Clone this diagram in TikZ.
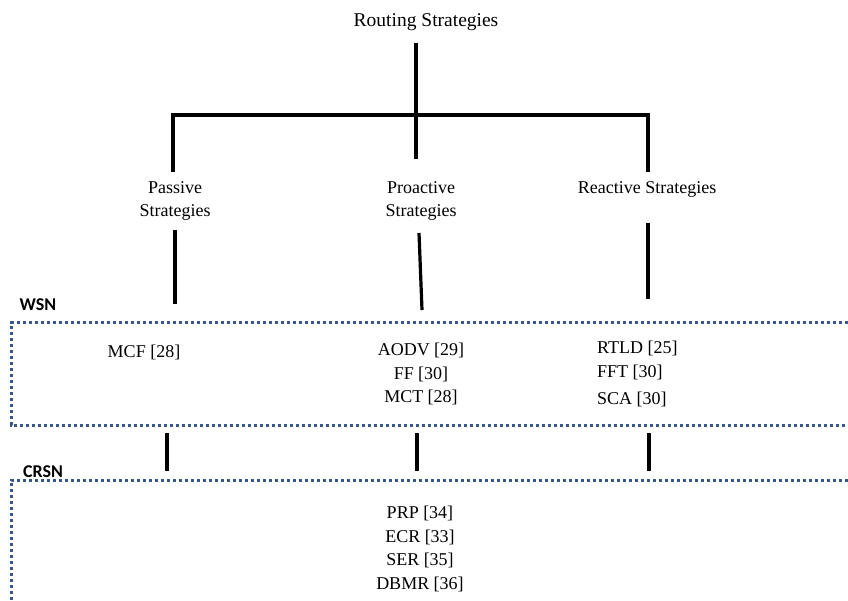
\documentclass[tikz,border=0pt]{standalone}
\usepackage{fontspec}
\setmainfont{Liberation Serif}
\newfontfamily\netfont{Carlito}
\usetikzlibrary{positioning}
\definecolor{netblue}{RGB}{56,88,140}

\begin{document}
\begin{tikzpicture}[x=1pt,y=-1pt]
% Define styles for nodes and edges
\tikzstyle{title} = [font=\fontsize{19.5}{24}\selectfont, inner sep=0pt]
\tikzstyle{strategy} = [font=\fontsize{18}{23}\selectfont, align=center, inner sep=0pt]
\tikzstyle{entry} = [font=\fontsize{18}{23.5}\selectfont, align=center, inner sep=0pt]
\tikzstyle{netlabel} = [font=\netfont\bfseries\fontsize{18}{18}\selectfont, inner sep=0pt]
\tikzstyle{branch} = [line width=4pt]
\tikzstyle{link} = [line width=3.2pt]
\tikzstyle{region} = [netblue, line width=3pt, dash pattern=on 3.2pt off 2.8pt]

\useasboundingbox (0,0) rectangle (848,601);

% Nodes
\node[title] (root) at (426,22) {Routing Strategies};
\node[strategy] (passive) at (175,201) {Passive\\Strategies};
\node[strategy] (proactive) at (421,201) {Proactive\\Strategies};
\node[strategy] (reactive) at (647,189) {Reactive Strategies};

\node[netlabel] (wsn) at (38,305) {WSN};
\node[netlabel] (crsn) at (43,472) {CRSN};

\node[entry] (mcf) at (144,352) {MCF [28]};
\node[entry] (wsnpro) at (421,374) {AODV [29]\\FF [30]\\MCT [28]};
\node[entry, align=left, anchor=west] (wsnre) at (597,374) {RTLD [25]\\FFT [30]\\[4pt]SCA [30]};
\node[entry] (crsnpro) at (420,549) {PRP [34]\\ECR [33]\\SER [35]\\DBMR [36]};

% Coordinates for the connector ends
\coordinate (top) at (416,43);
\coordinate (split) at (416,159);
\coordinate (lcorner) at (173,115);
\coordinate (rcorner) at (648,115);
\coordinate (ldrop) at (173,172);
\coordinate (rdrop) at (648,172);

\coordinate (pa1) at (175,230);
\coordinate (pa2) at (175,304);
\coordinate (pr1) at (419,233);
\coordinate (pr2) at (422,310);
\coordinate (re1) at (648,223);
\coordinate (re2) at (648,299);

\coordinate (pl1) at (167,433);
\coordinate (pl2) at (167,471);
\coordinate (ml1) at (417,433);
\coordinate (ml2) at (417,471);
\coordinate (rl1) at (649,433);
\coordinate (rl2) at (649,471);

% Edges
\draw[branch] (top) -- (split);
\draw[branch] (ldrop) -- (lcorner) -- (rcorner) -- (rdrop);

\draw[link] (pa1) -- (pa2);
\draw[link] (pr1) -- (pr2);
\draw[link] (re1) -- (re2);

\draw[link] (pl1) -- (pl2);
\draw[link] (ml1) -- (ml2);
\draw[link] (rl1) -- (rl2);

% Network regions
\draw[region] (848,323) -- (11,323) -- (11,425) -- (848,425);
\draw[region] (848,480) -- (11,480) -- (11,601);
\end{tikzpicture}
\end{document}
